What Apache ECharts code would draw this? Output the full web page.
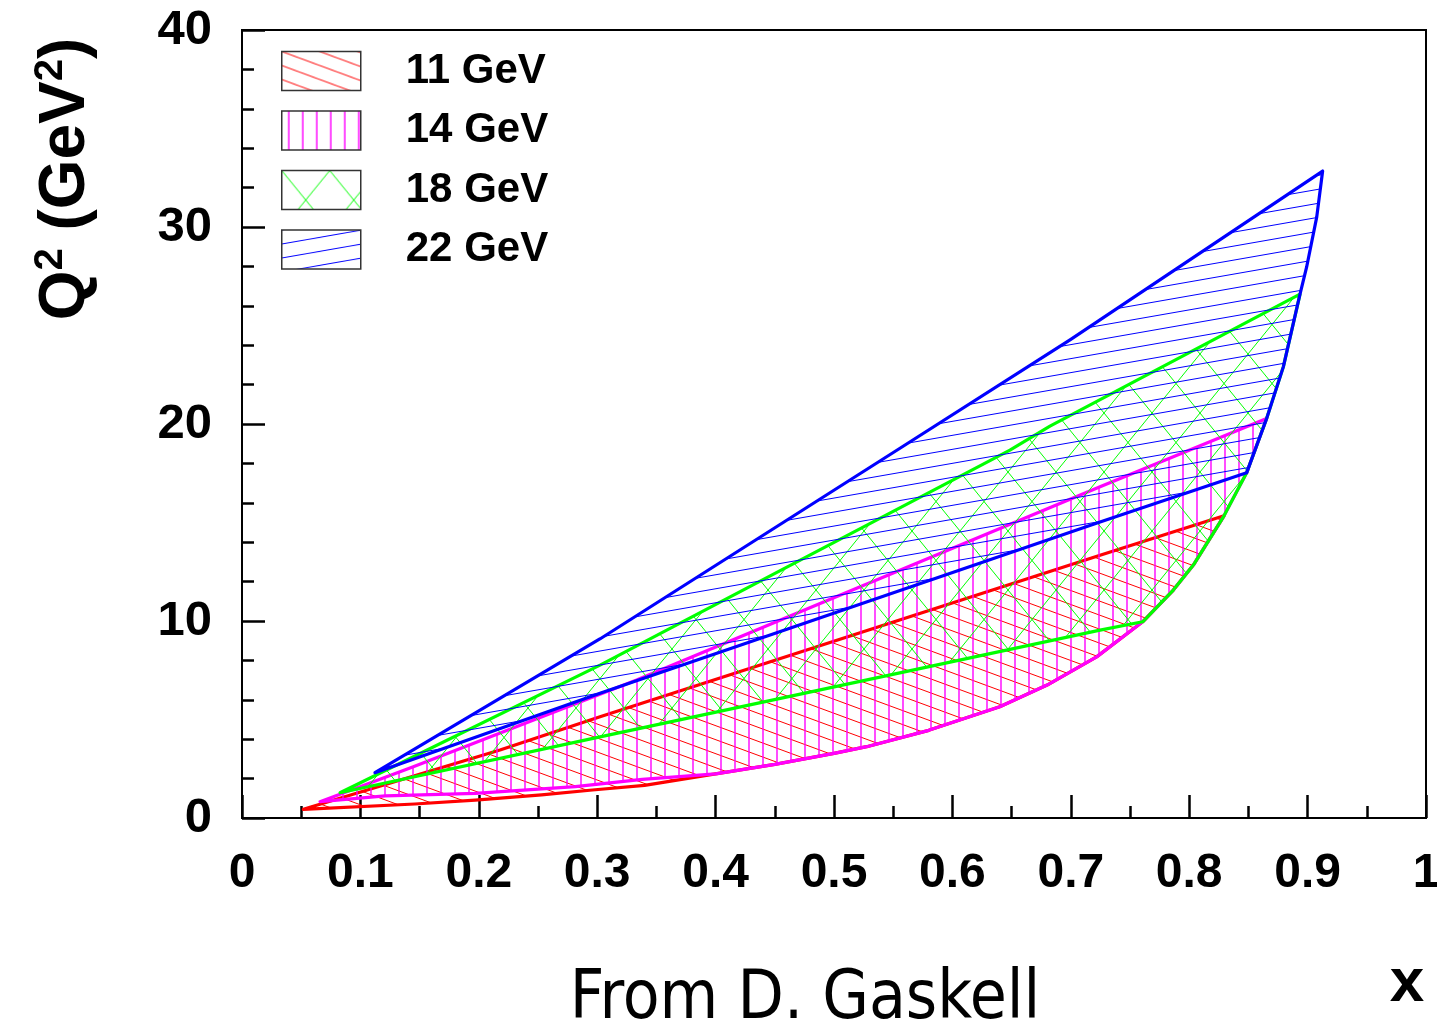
<!DOCTYPE html>
<html><head><meta charset="utf-8">
<script src="https://cdn.jsdelivr.net/npm/echarts@6/dist/echarts.min.js"></script>
<style>html,body{margin:0;padding:0;background:#fff}#c{width:1437px;height:1031px}</style>
</head><body><div id="c"></div>
<script>
// ---- data: [x, Q2] ----
const seriesNames = ['11 GeV', '14 GeV', '18 GeV', '22 GeV'];
const xTickLabels = ['0','0.1','0.2','0.3','0.4','0.5','0.6','0.7','0.8','0.9','1'];
const yTickLabels = ['0','10','20','30','40'];

// upper edges
const top11 = [[0.0518,0.44],[0.2179,3.45],[0.3024,5.14],[0.7247,13.34],[0.8294,15.34]];
const top14 = [[0.0659,0.83],[0.1447,2.60],[0.3333,7.00],[0.7247,16.81],[0.8654,20.28]];
const top18 = [[0.0828,1.28],[0.3024,7.76],[0.6486,18.67],[0.6824,19.89],[0.8936,26.59]];
const top22 = [[0.1123,2.30],[0.3026,9.10],[0.5534,18.68],[0.7000,24.30],[0.9127,32.84]];
// lower edges (start -> point where they meet the right-hand curve)
const low11 = [[0.0518,0.44],[0.146,0.71],[0.197,0.91],[0.253,1.17],[0.296,1.42],[0.34,1.66]];
const low14 = [[0.0659,0.83],[0.121,1.12],[0.197,1.25],[0.2815,1.59],[0.338,1.96],[0.40,2.24]];
const low18 = [[0.0828,1.28],[0.3024,4.12],[0.7247,9.54],[0.7607,9.96]];
const low22 = [[0.1123,2.30],[0.3024,6.33],[0.7247,15.03],[0.8485,17.52]];
// common right-hand edge
const rightEdge = [[0.34,1.66],[0.40,2.24],[0.45,2.72],[0.50,3.28],[0.5276,3.62],[0.58,4.45],[0.64,5.65],
  [0.68,6.75],[0.7218,8.18],[0.7607,9.96],[0.7866,11.57],[0.8035,12.84],[0.8294,15.34],[0.8485,17.52],
  [0.8654,20.28],[0.8795,22.9],[0.8936,26.59],[0.8992,27.97],[0.9077,30.50],[0.9127,32.84]];

const colors = ['#ff0000', '#ff00ff', '#00ff00', '#0000ff'];

function buildPolygon(top, low) {
  const xEnd = top[top.length - 1][0];
  const xJoin = low[low.length - 1][0];
  const pts = top.slice();
  const mid = rightEdge.filter(p => p[0] < xEnd - 1e-6 && p[0] > xJoin + 1e-6).reverse();
  return pts.concat(mid, low.slice(1).reverse());
}
const polys = [buildPolygon(top11, low11), buildPolygon(top14, low14),
               buildPolygon(top18, low18), buildPolygon(top22, low22)];

// ---- hatch patterns ----
function hatch(w, h, color, lw, segs) {
  const c = document.createElement('canvas');
  c.width = w; c.height = h;
  const g = c.getContext('2d');
  g.strokeStyle = color; g.lineWidth = lw;
  segs.forEach(s => { g.beginPath(); g.moveTo(s[0], s[1]); g.lineTo(s[2], s[3]); g.stroke(); });
  return { image: c, repeat: 'repeat' };
}
const patterns = [
  hatch(38, 14, colors[0], 1, [[0,0,38,14],[0,-14,38,0],[0,14,38,28]]),
  hatch(14, 14, colors[1], 1.4, [[7,0,7,14]]),
  hatch(48, 59, colors[2], 1, [[0,0,48,59],[-48,-59,0,0],[48,59,96,118],[48,0,0,59],[96,-59,48,0],[0,59,-48,118]]),
  hatch(80, 14, colors[3], 1, [[0,14,80,0],[0,0,80,-14],[0,28,80,14]])
];

const font = '"Liberation Sans", Arial, Helvetica, sans-serif';

const series = seriesNames.map((name, i) => ({
  name: name,
  type: 'custom',
  coordinateSystem: 'cartesian2d',
  data: polys[i],
  z: 2 + i,
  renderItem: function (params, api) {
    if (params.dataIndex !== 0) return null;
    const pts = polys[i].map(p => api.coord(p));
    return {
      type: 'polygon',
      shape: { points: pts },
      style: { fill: patterns[i], stroke: colors[i], lineWidth: 3.2, lineJoin: 'round' }
    };
  }
}));

const chart = echarts.init(document.getElementById('c'));
chart.setOption({
  animation: false,
  backgroundColor: '#fff',
  grid: { left: 242, top: 30, right: 11, bottom: 213, show: true, borderColor: '#000', borderWidth: 2,
          containLabel: false, outerBoundsMode: 'none' },
  legend: {
    orient: 'vertical', left: 281, top: 50, padding: 0, itemWidth: 79, itemHeight: 39, itemGap: 17.5,
    selectedMode: false,
    data: seriesNames.map((n, i) => ({ name: n, icon: 'rect',
      itemStyle: { color: patterns[i], borderColor: '#333', borderWidth: 1.5 } })),
    textStyle: { fontSize: 42, fontWeight: 'bold', fontFamily: font, color: '#000', lineHeight: 39,
                 padding: [0, 0, 0, 40] }
  },
  xAxis: {
    type: 'value', min: 0, max: 1, interval: 0.1,
    axisLine: { show: true, onZero: false, lineStyle: { color: '#000', width: 2 } },
    axisTick: { show: true, inside: true, length: 23, lineStyle: { color: '#000', width: 2.5 } },
    minorTick: { show: true, splitNumber: 2, length: 12, lineStyle: { color: '#000', width: 2.5 } },
    splitLine: { show: false }, minorSplitLine: { show: false },
    axisLabel: { fontSize: 48, fontWeight: 'bold', fontFamily: font, color: '#000', margin: 32,
                 formatter: v => xTickLabels[Math.round(v * 10)] }
  },
  yAxis: {
    type: 'value', min: 0, max: 40, interval: 10,
    axisLine: { show: true, onZero: false, lineStyle: { color: '#000', width: 2 } },
    axisTick: { show: true, inside: true, length: 23, lineStyle: { color: '#000', width: 2.5 } },
    minorTick: { show: true, splitNumber: 5, length: 12, lineStyle: { color: '#000', width: 2.5 } },
    splitLine: { show: false }, minorSplitLine: { show: false },
    axisLabel: { fontSize: 49, fontWeight: 'bold', fontFamily: font, color: '#000', margin: 30,
                 formatter: v => yTickLabels[Math.round(v / 10)] }
  },
  graphic: [
    { type: 'text', x: 66, y: 179, rotation: Math.PI / 2, z: 10,
      style: { text: '{a|Q}{s|2}{a| (GeV}{s|2}{a|)}', fill: '#000', align: 'center', verticalAlign: 'middle',
               rich: {
                 a: { fontSize: 64, fontWeight: 'bold', fontFamily: font, fill: '#000', lineHeight: 70 },
                 s: { fontSize: 40, fontWeight: 'bold', fontFamily: font, fill: '#000', verticalAlign: 'top', lineHeight: 70 }
               } } },
    { type: 'text', x: 1407, y: 984, z: 10,
      style: { text: 'x', fontSize: 62, fontWeight: 'bold', fontFamily: font, fill: '#000',
               align: 'center', verticalAlign: 'middle' } },
    { type: 'text', x: 805, y: 1001, z: 10,
      style: { text: 'From D. Gaskell', fontSize: 67,
               fontFamily: '"Liberation Sans Narrow", "DejaVu Sans Condensed", "Open Sans", sans-serif',
               fill: '#000', align: 'center', verticalAlign: 'middle' } }
  ],
  series: series
});
</script></body></html>
